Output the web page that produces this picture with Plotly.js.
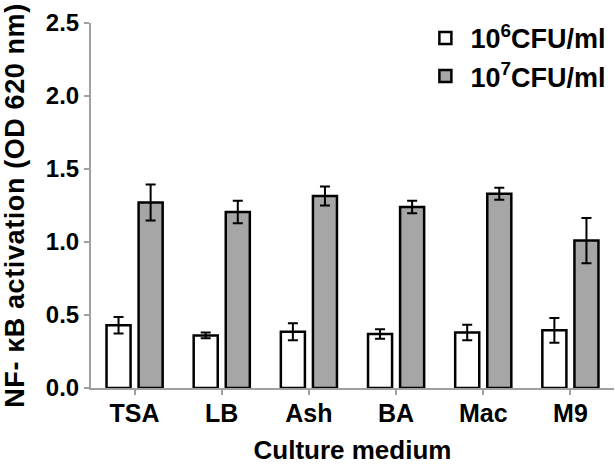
<!DOCTYPE html>
<html><head><meta charset="utf-8">
<script src="https://cdn.plot.ly/plotly-3.0.1.min.js"></script>
<style>html,body{margin:0;padding:0;background:#fff}#chart{width:615px;height:465px}
.ytitle{letter-spacing:0.6px}</style>
</head><body><div id="chart"></div>
<script>
const categories = ["TSA", "LB", "Ash", "BA", "Mac", "M9"];
const low_values = [0.43, 0.36, 0.385, 0.37, 0.38, 0.395];
const low_errors = [0.057, 0.02, 0.058, 0.033, 0.053, 0.085];
const high_values = [1.27, 1.205, 1.315, 1.24, 1.33, 1.01];
const high_errors = [0.123, 0.077, 0.065, 0.043, 0.041, 0.155];
const series_names = ["10<sup>6</sup>CFU/ml", "10<sup>7</sup>CFU/ml"];
const yTicks = [0, 0.5, 1.0, 1.5, 2.0, 2.5];
const yTickText = ["0.0", "0.5", "1.0", "1.5", "2.0", "2.5"];

const font = "Arial, 'Liberation Sans', sans-serif";
const errStyle = {type: "data", visible: true, color: "#000", thickness: 2, width: 5};

const traces = [
  {type: "bar", x: categories, y: low_values, name: series_names[0],
   marker: {color: "#ffffff", line: {color: "#000", width: 2.5}},
   error_y: Object.assign({array: low_errors}, errStyle)},
  {type: "bar", x: categories, y: high_values, name: series_names[1],
   marker: {color: "#a6a6a6", line: {color: "#000", width: 2.5}},
   error_y: Object.assign({array: high_errors}, errStyle)}
];

const layout = {
  width: 615, height: 465,
  margin: {l: 91, r: 1, t: 23, b: 77},
  paper_bgcolor: "#fff", plot_bgcolor: "#fff",
  barmode: "group", bargap: 0.264, bargroupgap: 0.25,
  font: {family: font, color: "#000"},
  showlegend: true,
  legend: {x: 0.995, xanchor: "right", y: 1.025, yanchor: "top",
           font: {size: 27, family: font, weight: "bold"}, bgcolor: "rgba(0,0,0,0)",
           itemwidth: 40, tracegroupgap: 0},
  xaxis: {range: [-0.5, 5.5], showline: true, linecolor: "#a0a0a0", linewidth: 2,
          ticks: "outside", tickcolor: "#a0a0a0", ticklen: 5, tickwidth: 2, ticklabelstandoff: -3,
          tickfont: {size: 25, family: font, weight: "bold"}, showgrid: false, zeroline: false,
          title: {text: "Culture medium", font: {size: 26, family: font, weight: "bold"}, standoff: 20}},
  yaxis: {range: [0, 2.5], tickvals: yTicks, ticktext: yTickText, showline: true,
          linecolor: "#a0a0a0", linewidth: 2, ticks: "outside", tickcolor: "#a0a0a0",
          ticklen: 5, tickwidth: 2, showgrid: false, zeroline: false,
          tickfont: {size: 24, family: font, weight: "bold"},
          title: {text: "NF- κB activation (OD 620 nm)", font: {size: 27, family: font, weight: "bold"}, standoff: 14}}
};

Plotly.newPlot("chart", traces, layout, {displayModeBar: false, staticPlot: true});
</script></body></html>
